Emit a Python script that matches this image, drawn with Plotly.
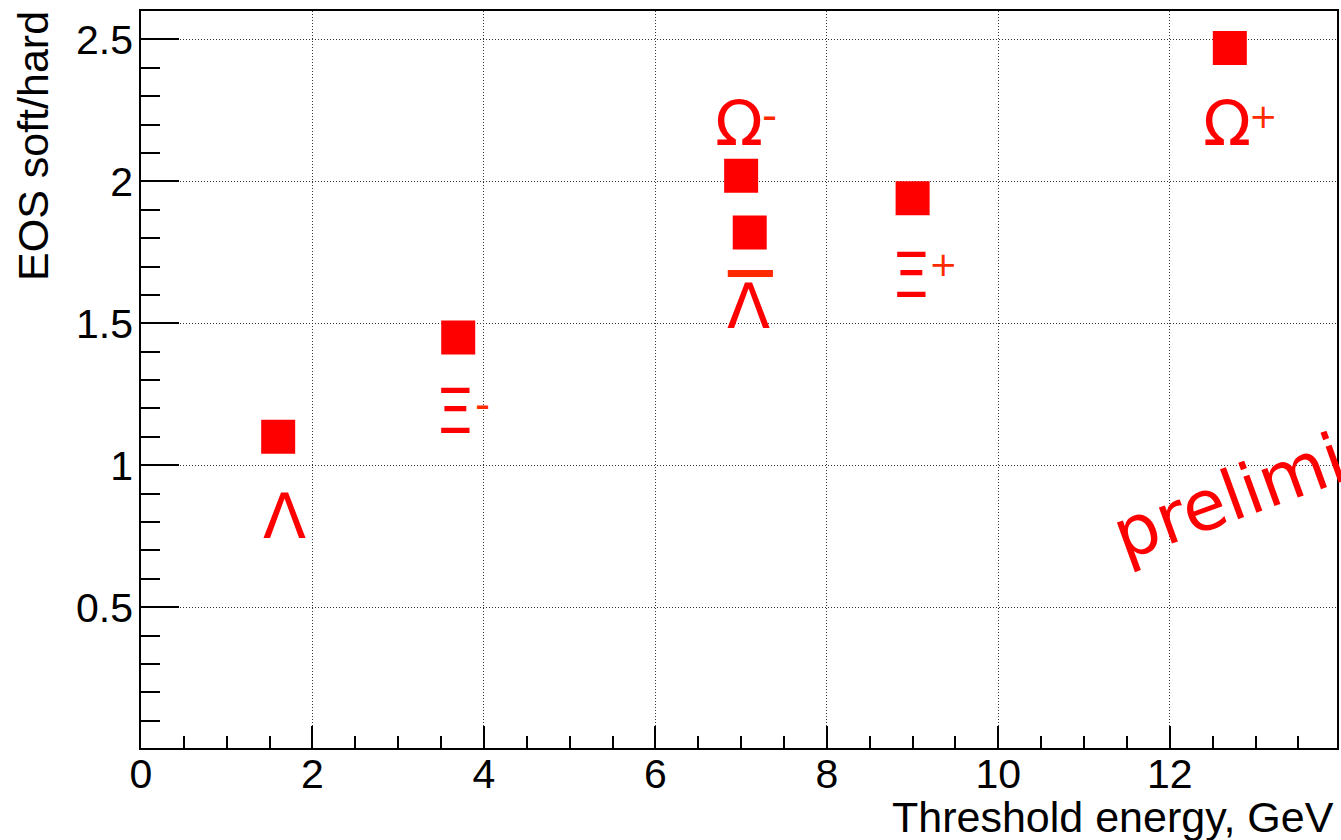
import plotly.graph_objects as go

# ---- data ----
particles = ["Λ", "Ξ-", "Ω-", "anti-Λ", "Ξ+", "Ω+"]
threshold_energy = [1.6, 3.7, 7.0, 7.1, 9.0, 12.7]
eos_ratio = [1.10, 1.45, 2.02, 1.82, 1.94, 2.47]

x_tick_vals = [0, 2, 4, 6, 8, 10, 12]
y_tick_vals = [0.5, 1, 1.5, 2, 2.5]
y_tick_text = ["0.5", "1", "1.5", "2", "2.5"]

# particle labels (main glyph + charge superscript)
label_text = ["Λ", "Ξ", "Ω", "Λ", "Ξ", "Ω"]
label_sup = ["", "-", "-", "", "+", "+"]
label_x = [1.676, 3.660, 6.975, 7.088, 8.979, 12.669]
label_y = [0.818, 1.190, 2.205, 1.560, 1.670, 2.205]
sup_dx = [0, 27.5, 30.5, 0, 33, 36.5]
sup_dy = [0, 6.7, 7.3, 0, 10.7, 7.5]

RED = "#ff0000"
SUP_RED = "#ff2a00"
AXIS_FONT = "Liberation Sans, Arial, Helvetica, sans-serif"
GREEK_FONT = "DejaVu Sans, sans-serif"

fig = go.Figure()
fig.add_trace(go.Scatter(
    x=threshold_energy, y=eos_ratio, mode="markers",
    marker=dict(symbol="square", size=34, color=RED, line=dict(width=0)),
    text=particles, hoverinfo="x+y+text", showlegend=False,
))

annotations = []
for t, s, lx, ly, dx, dy in zip(label_text, label_sup, label_x, label_y, sup_dx, sup_dy):
    annotations.append(dict(
        x=lx, y=ly, xref="x", yref="y", text=t, showarrow=False,
        xanchor="center", yanchor="middle",
        font=dict(family=GREEK_FONT, size=63, color=RED),
    ))
    if s:
        annotations.append(dict(
            x=lx, y=ly, xref="x", yref="y", text=s, showarrow=False,
            xanchor="center", yanchor="middle", xshift=dx, yshift=dy,
            font=dict(family=GREEK_FONT, size=34 if s == "+" else 42, color=SUP_RED),
        ))

# bar over the anti-Lambda label
bar_idx = particles.index("anti-Λ")
fig.add_shape(type="line", xref="x", yref="y",
              x0=label_x[bar_idx] - 0.244, x1=label_x[bar_idx] + 0.283,
              y0=label_y[bar_idx] + 0.115, y1=label_y[bar_idx] + 0.115,
              line=dict(color=SUP_RED, width=7))

# preliminary watermark
annotations.append(dict(
    x=13.56, y=0.982, xref="x", yref="y", text="preliminary", showarrow=False,
    textangle=-20, xanchor="center", yanchor="middle",
    font=dict(family=GREEK_FONT, size=70, color=RED),
))

# axis titles (ROOT style: right/top aligned)
annotations.append(dict(
    x=1, y=0, xref="paper", yref="paper", text="Threshold energy, GeV",
    showarrow=False, xanchor="right", yanchor="middle", xshift=-1, yshift=-69,
    font=dict(family=AXIS_FONT, size=43, color="black"),
))
annotations.append(dict(
    x=0, y=1, xref="paper", yref="paper", text="EOS soft/hard",
    showarrow=False, xanchor="center", yanchor="top", xshift=-108, yshift=2,
    textangle=-90,
    font=dict(family=AXIS_FONT, size=43, color="black"),
))

fig.update_layout(
    width=1341, height=840,
    margin=dict(l=141, r=2, t=11, b=92),
    paper_bgcolor="white", plot_bgcolor="white",
    annotations=annotations,
    showlegend=False,
)

fig.update_xaxes(
    range=[0, 13.95], tickmode="array", tickvals=x_tick_vals,
    ticks="inside", ticklen=22, tickwidth=1.5, tickcolor="black",
    showline=True, linecolor="black", linewidth=1.5, mirror=True,
    showgrid=True, gridcolor="#333333", gridwidth=1, griddash="1px,2px",
    zeroline=False,
    tickfont=dict(family=AXIS_FONT, size=41, color="black"),
    ticklabelstandoff=-11,
    minor=dict(dtick=0.5, tick0=0, ticks="inside", ticklen=12, tickwidth=1.5,
               tickcolor="black", showgrid=False),
)
fig.update_yaxes(
    range=[0.004, 2.6], tickmode="array", tickvals=y_tick_vals, ticktext=y_tick_text,
    ticks="inside", ticklen=38, tickwidth=1.5, tickcolor="black",
    showline=True, linecolor="black", linewidth=1.5, mirror=True,
    showgrid=True, gridcolor="#333333", gridwidth=1, griddash="1px,2px",
    zeroline=False,
    tickfont=dict(family=AXIS_FONT, size=41, color="black"),
    ticklabelstandoff=-2,
    minor=dict(dtick=0.1, tick0=0, ticks="inside", ticklen=19, tickwidth=1.5,
               tickcolor="black", showgrid=False),
)

fig.write_html("out.html")
